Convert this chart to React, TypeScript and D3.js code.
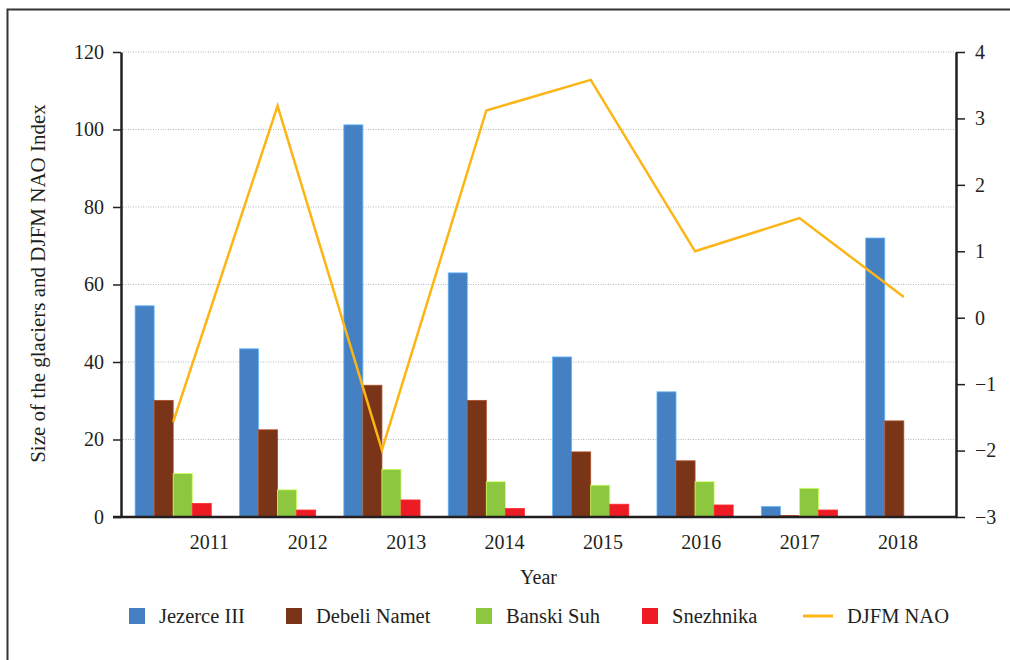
import { useEffect, useRef } from "react";
import * as d3 from "d3";

const years = ["2011", "2012", "2013", "2014", "2015", "2016", "2017", "2018"];
const seriesNames = ["Jezerce III", "Debeli Namet", "Banski Suh", "Snezhnika"];
const jezerce = [54.5, 43.4, 101.2, 63.0, 41.3, 32.3, 2.7, 72.0];
const debeli = [30.1, 22.5, 34.0, 30.1, 16.8, 14.5, 0.4, 24.8];
const banski = [11.2, 7.0, 12.3, 9.1, 8.2, 9.1, 7.4, 0];
const snezhnika = [3.5, 1.8, 4.4, 2.2, 3.3, 3.1, 1.8, 0];
const nao = [-1.57, 3.19, -1.99, 3.12, 3.58, 1.0, 1.5, 0.31];
const leftTicks = [0, 20, 40, 60, 80, 100, 120];
const rightTicks = [-3, -2, -1, 0, 1, 2, 3, 4];

const colors = ["#4480c2", "#7a3519", "#8dc63f", "#ed1c24"];
const lineColor = "#fdb515";
const ink = "#231f20";
const font = "Liberation Serif, DejaVu Serif, serif";

export default function App() {
  const ref = useRef<SVGSVGElement | null>(null);

  useEffect(() => {
    const width = 1010;
    const height = 660;
    const margin = { top: 52, right: 54, bottom: 143, left: 121 };
    const svg = d3.select(ref.current);
    svg.selectAll("*").remove();

    // frame around the figure
    svg
      .append("rect")
      .attr("x", 7.5)
      .attr("y", 9.5)
      .attr("width", width + 20)
      .attr("height", height + 20)
      .attr("fill", "none")
      .attr("stroke", "#333")
      .attr("stroke-width", 2);

    const x0 = d3
      .scaleBand()
      .domain(years)
      .range([margin.left, width - margin.right])
      .paddingInner(0.27)
      .paddingOuter(0.135);
    const x1 = d3
      .scaleBand()
      .domain(seriesNames)
      .range([0, x0.bandwidth()]);
    // year labels sit a bit off the groups in the original
    const xLabel = d3.scalePoint().domain(years).range([209.5, 898]);

    const yLeft = d3
      .scaleLinear()
      .domain([0, 120])
      .range([height - margin.bottom, margin.top]);
    const yRight = d3
      .scaleLinear()
      .domain([-3, 4])
      .range([height - margin.bottom, margin.top]);

    // grid
    svg
      .append("g")
      .selectAll("line")
      .data(leftTicks.filter((d) => d > 0))
      .join("line")
      .attr("x1", margin.left + 2)
      .attr("x2", width - margin.right - 2)
      .attr("y1", (d) => yLeft(d))
      .attr("y2", (d) => yLeft(d))
      .attr("stroke", "#b5b7ba")
      .attr("stroke-width", 1)
      .attr("stroke-dasharray", "1,1.5");

    // bars
    const allSeries = [jezerce, debeli, banski, snezhnika];
    allSeries.forEach((values, si) => {
      svg
        .append("g")
        .selectAll("rect")
        .data(values)
        .join("rect")
        .attr("x", (d, i) => (x0(years[i]) ?? 0) + (x1(seriesNames[si]) ?? 0))
        .attr("y", (d) => yLeft(d))
        .attr("width", x1.bandwidth())
        .attr("height", (d) => yLeft(0) - yLeft(d))
        .attr("fill", colors[si])
        .attr("stroke", d3.color(colors[si])!.brighter(1).toString())
        .attr("stroke-width", (d) => (d > 0 ? 0.8 : 0));
    });

    // NAO line
    const line = d3
      .line<number>()
      .x((d, i) => (x0(years[i]) ?? 0) + x0.bandwidth() / 2)
      .y((d) => yRight(d));
    svg
      .append("path")
      .datum(nao)
      .attr("d", line)
      .attr("fill", "none")
      .attr("stroke", lineColor)
      .attr("stroke-width", 2.5)
      .attr("stroke-linejoin", "miter");

    // axes
    const leftAxis = svg
      .append("g")
      .attr("transform", `translate(${margin.left},0)`)
      .call(d3.axisLeft(yLeft).tickValues(leftTicks).tickSize(8).tickPadding(9).tickSizeOuter(0));
    const rightAxis = svg
      .append("g")
      .attr("transform", `translate(${width - margin.right},0)`)
      .call(
        d3
          .axisRight(yRight)
          .tickValues(rightTicks)
          .tickFormat(d3.format("d"))
          .tickSize(9)
          .tickPadding(10)
          .tickSizeOuter(0)
      );
    svg
      .append("line")
      .attr("x1", margin.left - 8)
      .attr("x2", width - margin.right + 1)
      .attr("y1", yLeft(0))
      .attr("y2", yLeft(0))
      .attr("stroke", ink)
      .attr("stroke-width", 2.5);

    [leftAxis, rightAxis].forEach((ax) => {
      ax.attr("font-family", font).attr("font-size", 20);
      ax.select(".domain").attr("stroke", ink).attr("stroke-width", 2.5);
      ax.selectAll(".tick line").attr("stroke", ink).attr("stroke-width", 1.5);
      ax.selectAll("text").attr("fill", ink);
    });

    const labels = svg.append("g").attr("font-family", font).attr("fill", ink);
    labels
      .selectAll("text")
      .data(years)
      .join("text")
      .attr("x", (d) => xLabel(d) ?? 0)
      .attr("y", 549)
      .attr("text-anchor", "middle")
      .attr("font-size", 20)
      .text((d) => d);

    // axis titles
    labels
      .append("text")
      .attr("x", (margin.left + width - margin.right) / 2)
      .attr("y", 584)
      .attr("text-anchor", "middle")
      .attr("font-size", 20)
      .text("Year");
    labels
      .append("text")
      .attr("transform", `translate(45,${(margin.top + height - margin.bottom) / 2 - 1}) rotate(-90)`)
      .attr("text-anchor", "middle")
      .attr("font-size", 21)
      .text("Size of the glaciers and DJFM NAO Index");

    // legend
    const legendX = [129, 286, 476, 642];
    const legend = svg.append("g").attr("font-family", font).attr("font-size", 20.5);
    seriesNames.forEach((name, i) => {
      legend
        .append("rect")
        .attr("x", legendX[i])
        .attr("y", 608)
        .attr("width", 16)
        .attr("height", 16)
        .attr("fill", colors[i]);
      legend
        .append("text")
        .attr("x", legendX[i] + 30)
        .attr("y", 623)
        .attr("fill", ink)
        .text(name);
    });
    legend
      .append("line")
      .attr("x1", 803)
      .attr("x2", 833)
      .attr("y1", 616)
      .attr("y2", 616)
      .attr("stroke", lineColor)
      .attr("stroke-width", 3);
    legend
      .append("text")
      .attr("x", 847)
      .attr("y", 623)
      .attr("fill", ink)
      .text("DJFM NAO");
  }, []);

  return (
    <div style={{ position: "absolute", left: 0, top: 0 }}>
      <svg
        ref={ref}
        width={1010}
        height={660}
        fontFamily={font}
        style={{ display: "block", background: "#fff" }}
      />
    </div>
  );
}
